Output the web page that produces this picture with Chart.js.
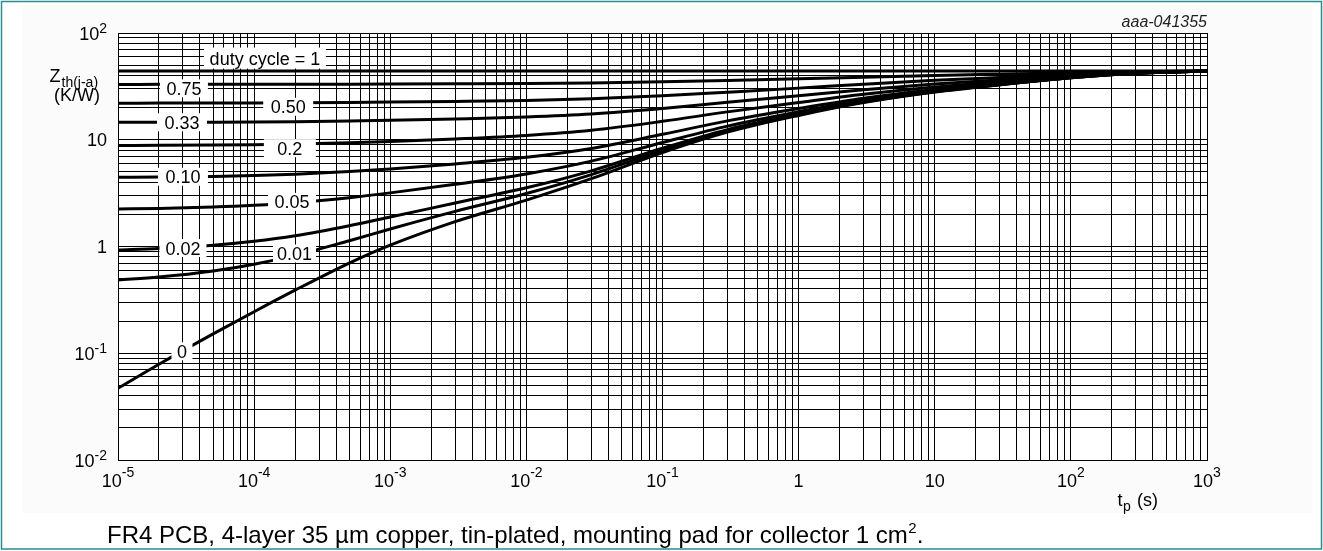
<!DOCTYPE html>
<html><head><meta charset="utf-8">
<script src="https://cdn.jsdelivr.net/npm/chart.js@4.4.0/dist/chart.umd.min.js"></script>
<style>html,body{margin:0;padding:0;background:#fff;}canvas{display:block;}</style>
</head><body>
<canvas id="c" width="1323" height="551"></canvas>
<script>
// pulse duration t_p (s)
const tp = [1e-5, 2e-5, 5e-5, 1e-4, 2e-4, 5e-4, 1e-3, 3e-3, 1e-2, 3e-2, 1e-1, 3e-1, 1, 3, 10, 30, 100, 300, 1000];
const dutyCycles = ['1', '0.75', '0.50', '0.33', '0.2', '0.10', '0.05', '0.02', '0.01', '0'];
// Zth(j-a) (K/W) per duty cycle
const z_100 = [44, 44, 44, 44, 44, 44, 44, 44, 44, 44, 44, 44, 44, 44, 44, 44, 44, 44, 44];
const z_075 = [33.01, 33.02, 33.04, 33.06, 33.1, 33.18, 33.26, 33.43, 33.68, 34.08, 34.9, 35.95, 37.23, 38.58, 40.0, 41.18, 42.5, 43.5, 44];
const z_050 = [22.02, 22.04, 22.08, 22.12, 22.2, 22.35, 22.52, 22.86, 23.36, 24.16, 25.8, 27.9, 30.45, 33.15, 36.0, 38.35, 41.0, 43.0, 44];
const z_033 = [14.55, 14.57, 14.62, 14.68, 14.78, 14.99, 15.21, 15.67, 16.34, 17.41, 19.61, 22.43, 25.84, 29.46, 33.28, 36.43, 39.98, 42.66, 44];
const z_020 = [8.838, 8.863, 8.922, 8.996, 9.112, 9.36, 9.624, 10.17, 10.98, 12.26, 14.88, 18.24, 22.32, 26.64, 31.2, 34.96, 39.2, 42.4, 44];
const z_010 = [4.442, 4.471, 4.537, 4.621, 4.751, 5.03, 5.327, 5.939, 6.848, 8.288, 11.24, 15.02, 19.61, 24.47, 29.6, 33.83, 38.6, 42.2, 44];
const z_005 = [2.245, 2.275, 2.344, 2.433, 2.571, 2.865, 3.179, 3.825, 4.784, 6.304, 9.42, 13.41, 18.26, 23.39, 28.8, 33.27, 38.3, 42.1, 44];
const z_002 = [0.926, 0.957, 1.029, 1.120, 1.262, 1.566, 1.889, 2.556, 3.546, 5.114, 8.328, 12.44, 17.44, 22.73, 28.32, 32.93, 38.12, 42.04, 44];
const z_001 = [0.487, 0.518, 0.590, 0.683, 0.826, 1.133, 1.460, 2.133, 3.133, 4.717, 7.964, 12.12, 17.17, 22.52, 28.16, 32.81, 38.06, 42.02, 44];
const z_000 = [0.047, 0.079, 0.152, 0.245, 0.39, 0.70, 1.03, 1.71, 2.72, 4.32, 7.6, 11.8, 16.9, 22.3, 28.0, 32.7, 38.0, 42.0, 44];
const seriesValues = [z_100, z_075, z_050, z_033, z_020, z_010, z_005, z_002, z_001, z_000];

// tick labels
const xTickValues = [1e-5, 1e-4, 1e-3, 1e-2, 1e-1, 1, 10, 100, 1000];
const xTickBase = ['10', '10', '10', '10', '10', '1', '10', '10', '10'];
const xTickExp = ['-5', '-4', '-3', '-2', '-1', '', '', '2', '3'];
const yTickValues = [1e-2, 1e-1, 1, 10, 100];
const yTickBase = ['10', '10', '1', '10', '10'];
const yTickExp = ['-2', '-1', '', '', '2'];

const FONT = '"Liberation Sans", Arial, Helvetica, sans-serif';

// curve label placement (annotation styling)
const curveLabels = [
  {ds: 0, text: 'duty cycle = 1', at: 1.2e-4, dy: -13, w: 122, h: 21},
  {ds: 1, text: '0.75', at: 3.05e-5, dy: 4, w: 48, h: 18},
  {ds: 2, text: '0.50', at: 1.78e-4, dy: 4, w: 50, h: 18},
  {ds: 3, text: '0.33', at: 2.95e-5, dy: 0, w: 50, h: 18},
  {ds: 4, text: '0.2', at: 1.83e-4, dy: 4, w: 52, h: 18},
  {ds: 5, text: '0.10', at: 3.0e-5, dy: 0, w: 50, h: 18},
  {ds: 6, text: '0.05', at: 1.9e-4, dy: -1, w: 48, h: 18},
  {ds: 7, text: '0.02', at: 3.0e-5, dy: 1, w: 47, h: 18},
  {ds: 8, text: '0.01', at: 1.98e-4, dy: -2, w: 43, h: 18},
  {ds: 9, text: '0', at: 2.95e-5, dy: 0, w: 21, h: 18}
];

function logGrid(min, max) {
  const out = [];
  for (let e = Math.floor(Math.log10(min)); e <= Math.ceil(Math.log10(max)); e++) {
    for (let k = 1; k < 10; k++) {
      const v = k * Math.pow(10, e);
      if (v >= min * 0.999 && v <= max * 1.001) out.push({value: v});
    }
  }
  return out;
}

function drawSup(ctx, base, exp, x, y, align, baseFont, supFont, rise) {
  ctx.font = baseFont; const wb = ctx.measureText(base).width;
  ctx.font = supFont; const we = exp ? ctx.measureText(exp).width : 0;
  const total = wb + we;
  const left = align === 'center' ? x - total / 2 : (align === 'right' ? x - total : x);
  ctx.textAlign = 'left'; ctx.textBaseline = 'alphabetic';
  ctx.font = baseFont; ctx.fillText(base, left, y);
  if (exp) { ctx.font = supFont; ctx.fillText(exp, left + wb, y - rise); }
  return left + total;
}

const decor = {
  id: 'decor',
  beforeDraw(chart) {
    const ctx = chart.ctx;
    ctx.save();
    ctx.fillStyle = '#ffffff'; ctx.fillRect(0, 0, chart.width, chart.height);
    ctx.fillStyle = '#fbfbfb'; ctx.fillRect(22, 6, 1290, 507);
    ctx.strokeStyle = '#2a8b90'; ctx.lineWidth = 1.5;
    ctx.strokeRect(1.5, 1.5, 1320, 547.5);
    ctx.fillStyle = '#ffffff';
    const a = chart.chartArea;
    ctx.fillRect(a.left, a.top, a.right - a.left, a.bottom - a.top);
    ctx.restore();
  },
  afterDatasetsDraw(chart) {
    const ctx = chart.ctx; const xs = chart.scales.x;
    ctx.save();
    const f = '18px ' + FONT;
    curveLabels.forEach(l => {
      const pts = chart.getDatasetMeta(l.ds).data;
      const px = xs.getPixelForValue(l.at);
      let py = pts[0].y;
      for (let i = 0; i < pts.length - 1; i++) {
        if (px >= pts[i].x && px <= pts[i + 1].x) {
          const t = (px - pts[i].x) / (pts[i + 1].x - pts[i].x);
          py = pts[i].y + t * (pts[i + 1].y - pts[i].y);
          break;
        }
      }
      const cy = py + l.dy;
      ctx.fillStyle = '#ffffff';
      ctx.fillRect(px - l.w / 2, cy - l.h / 2, l.w, l.h);
      ctx.font = f;
      ctx.fillStyle = '#000000';
      ctx.textAlign = 'center'; ctx.textBaseline = 'alphabetic';
      ctx.fillText(l.text, px, cy + 6.5);
    });
    ctx.restore();
  },
  afterDraw(chart) {
    const ctx = chart.ctx; const xs = chart.scales.x; const ys = chart.scales.y;
    const a = chart.chartArea;
    ctx.save();
    ctx.fillStyle = '#000000';
    const bf = '18px ' + FONT, sf = '14px ' + FONT;
    xTickValues.forEach((v, i) => {
      drawSup(ctx, xTickBase[i], xTickExp[i], xs.getPixelForValue(v), a.bottom + 26.5, 'center', bf, sf, 9.5);
    });
    yTickValues.forEach((v, i) => {
      drawSup(ctx, yTickBase[i], yTickExp[i], a.left - 11, ys.getPixelForValue(v) + 6.5, 'right', bf, sf, 7);
    });
    // y axis title
    ctx.textAlign = 'left'; ctx.textBaseline = 'alphabetic';
    ctx.font = '18px ' + FONT; ctx.fillText('Z', 49.5, 82);
    ctx.font = '14px ' + FONT; ctx.fillText('th(j-a)', 61.5, 86.5);
    ctx.font = '18px ' + FONT; ctx.textAlign = 'center'; ctx.fillText('(K/W)', 77, 101);
    // x axis title
    ctx.textAlign = 'left';
    ctx.font = '18px ' + FONT; ctx.fillText('t', 1117.5, 506);
    ctx.font = '14px ' + FONT; ctx.fillText('p', 1123, 510.5);
    ctx.font = '18px ' + FONT; ctx.fillText('(s)', 1137, 506);
    // figure id
    ctx.font = 'italic 16px ' + FONT; ctx.textAlign = 'right'; ctx.fillStyle = '#222';
    ctx.fillText('aaa-041355', a.right, 27);
    // caption
    ctx.fillStyle = '#000';
    ctx.textAlign = 'left';
    ctx.font = '24px ' + FONT;
    const cap = 'FR4 PCB, 4-layer 35 \u00b5m copper, tin-plated, mounting pad for collector 1 cm';
    ctx.fillText(cap, 107, 543);
    let cx = 107 + ctx.measureText(cap).width;
    ctx.font = '15px ' + FONT; ctx.fillText('2', cx + 0.5, 532.5);
    cx += ctx.measureText('2').width + 0.5;
    ctx.font = '24px ' + FONT; ctx.fillText('.', cx, 543);
    ctx.restore();
  }
};

const datasets = seriesValues.map((vals, i) => ({
  label: dutyCycles[i],
  data: tp.map((t, j) => ({x: t, y: vals[j]})),
  borderColor: '#000000',
  borderWidth: 3,
  pointRadius: 0,
  fill: false,
  cubicInterpolationMode: 'monotone'
}));

new Chart(document.getElementById('c'), {
  type: 'line',
  data: {datasets},
  options: {
    responsive: false,
    animation: false,
    devicePixelRatio: 1,
    layout: {padding: {left: 118, right: 116, top: 33, bottom: 91}},
    plugins: {legend: {display: false}, tooltip: {enabled: false}},
    scales: {
      x: {
        type: 'logarithmic', min: 1e-5, max: 1000,
        afterBuildTicks: s => { s.ticks = logGrid(1e-5, 1000); },
        ticks: {display: false},
        grid: {color: '#000000', lineWidth: 1, drawTicks: false},
        border: {display: true, color: '#000000', width: 1}
      },
      y: {
        type: 'logarithmic', min: 0.01, max: 100,
        afterBuildTicks: s => { s.ticks = logGrid(0.01, 100); },
        ticks: {display: false},
        grid: {color: '#000000', lineWidth: 1, drawTicks: false},
        border: {display: true, color: '#000000', width: 1}
      }
    }
  },
  plugins: [decor]
});
</script>
</body></html>
